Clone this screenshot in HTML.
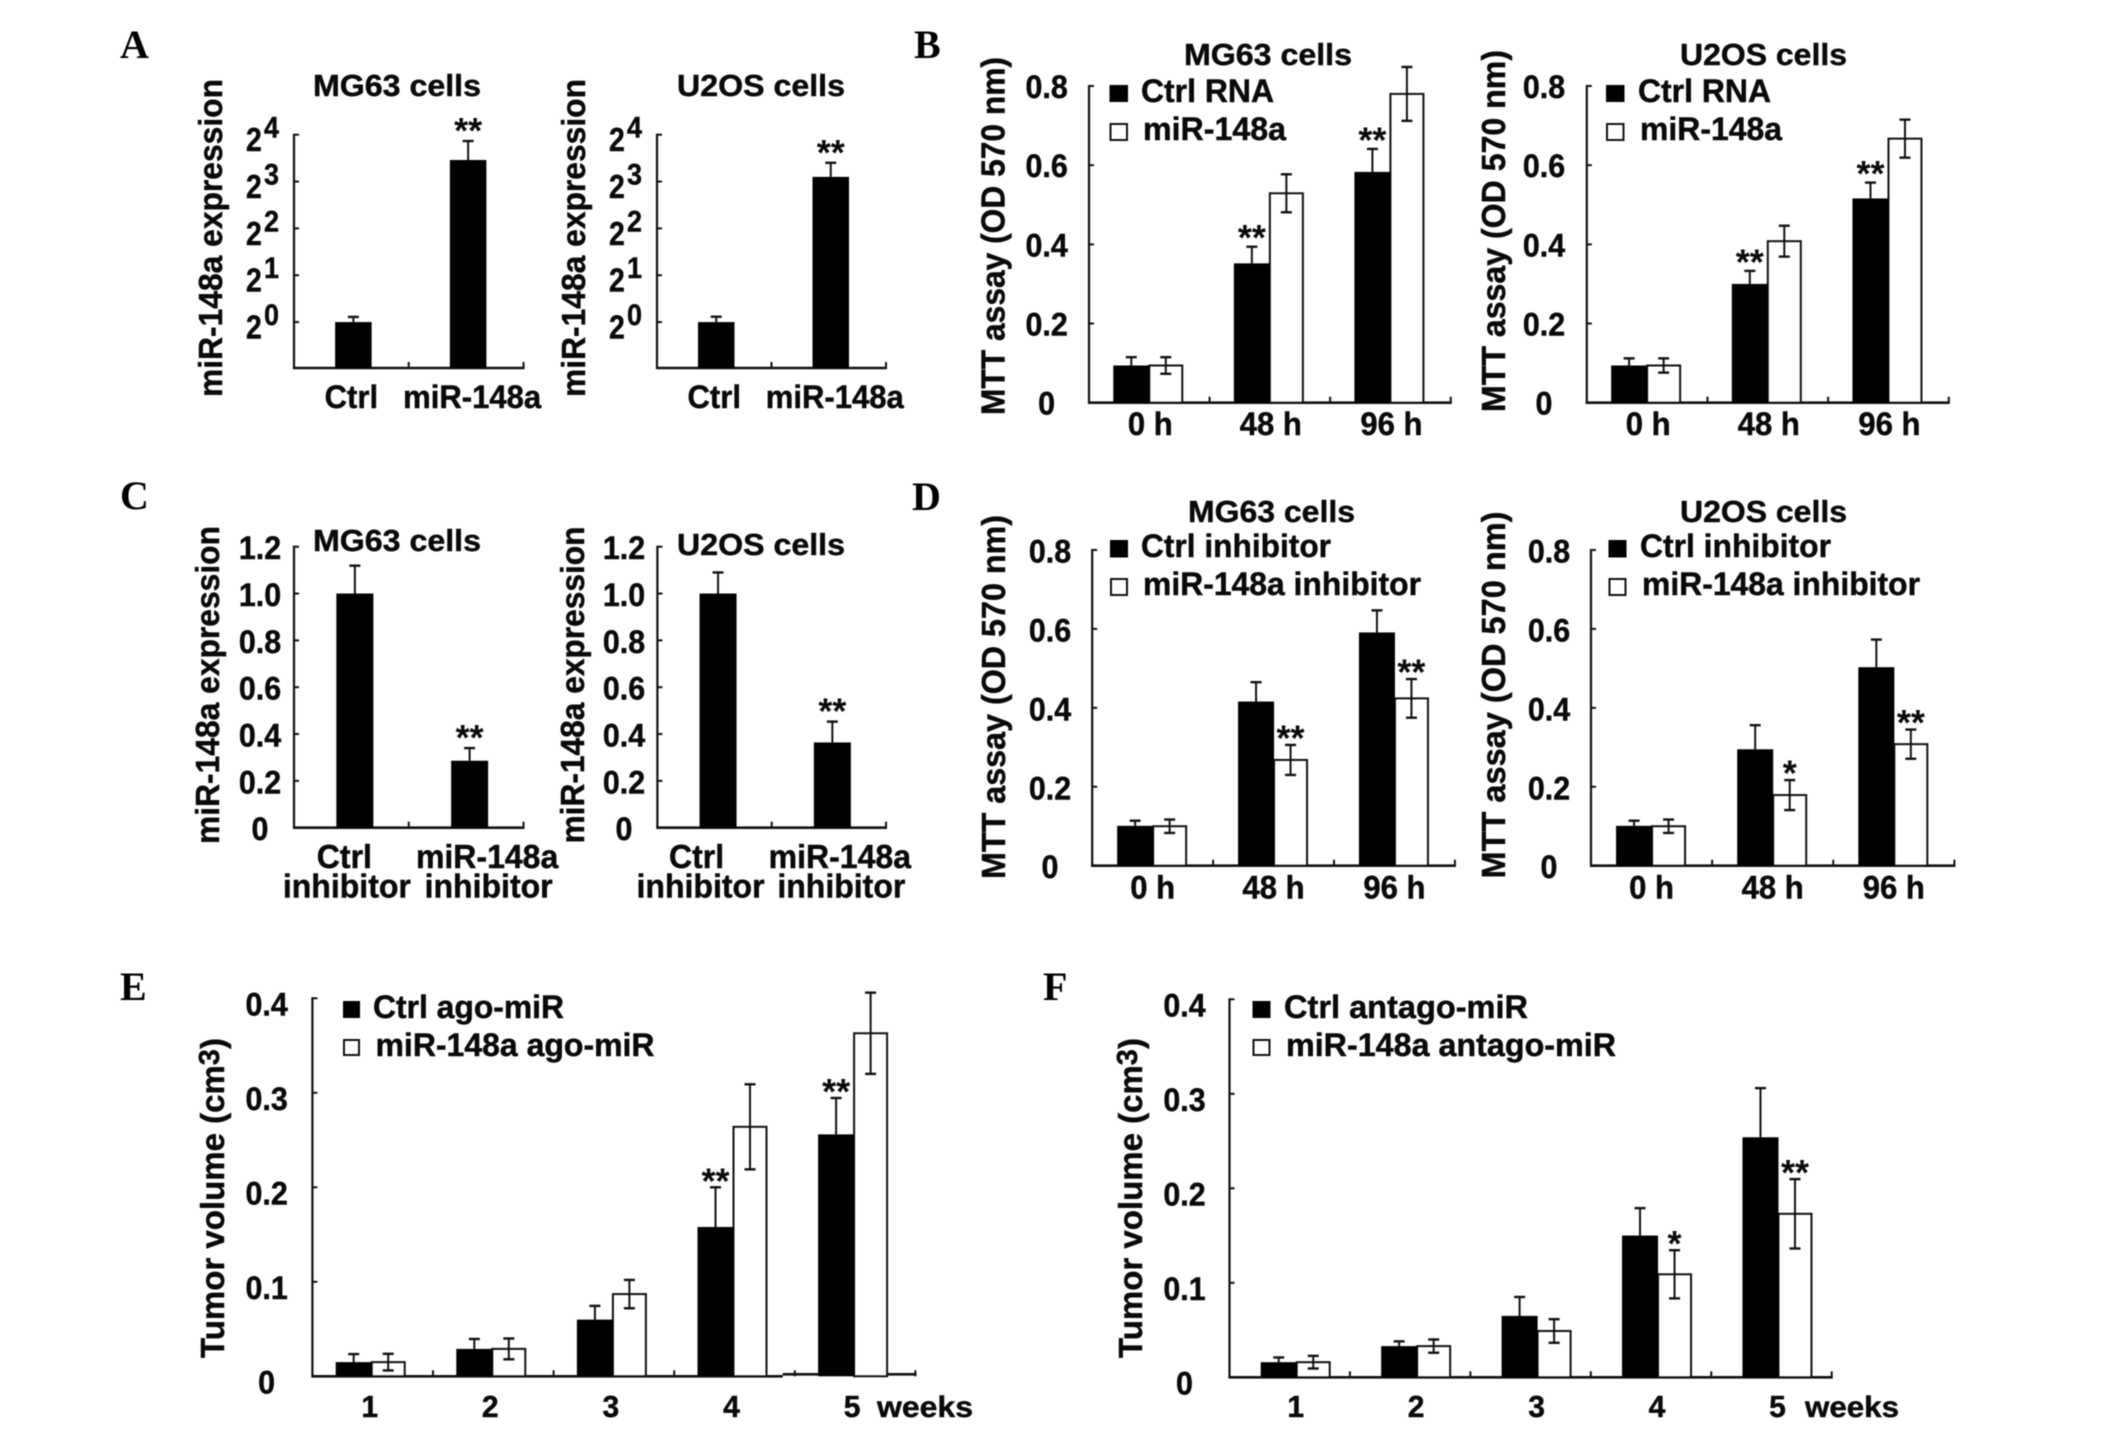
<!DOCTYPE html>
<html lang="en">
<head>
<meta charset="utf-8">
<title>miR-148a expression, MTT assay and tumor volume panels</title>
<style>
html,body{margin:0;padding:0;background:#fff;}
svg{display:block;filter:blur(0.45px);}
text{font-family:"Liberation Sans",Arial,sans-serif;font-weight:bold;fill:#0a0a0a;stroke:#0a0a0a;stroke-width:0.45px;}
.letter{font-family:"Liberation Serif","Times New Roman",serif;font-size:40px;fill:#000;stroke:none;}
.title{font-size:31px;}
.ylab{font-size:33px;font-weight:bold;}
.leg{font-size:32px;}
.star{stroke:none;}
</style>
</head>
<body>
<svg id="figure" xmlns="http://www.w3.org/2000/svg" width="2126" height="1430" viewBox="0 0 2126 1430">
<rect x="0" y="0" width="2126" height="1430" fill="#fff"/>

<text class="letter" x="120" y="58">A</text>
<text class="letter" x="914" y="58">B</text>
<text class="letter" x="120" y="509">C</text>
<text class="letter" x="912" y="510">D</text>
<text class="letter" x="120" y="1000">E</text>
<text class="letter" x="1043" y="1000">F</text>

<text class="title" x="313" y="96" textLength="168" lengthAdjust="spacingAndGlyphs">MG63 cells</text>
<text class="title" x="677" y="96" textLength="168" lengthAdjust="spacingAndGlyphs">U2OS cells</text>
<text class="title" x="1184" y="65" textLength="168" lengthAdjust="spacingAndGlyphs">MG63 cells</text>
<text class="title" x="1680" y="65" textLength="167" lengthAdjust="spacingAndGlyphs">U2OS cells</text>
<text class="title" x="313" y="551" textLength="168" lengthAdjust="spacingAndGlyphs">MG63 cells</text>
<text class="title" x="677" y="555" textLength="168" lengthAdjust="spacingAndGlyphs">U2OS cells</text>
<text class="title" x="1188" y="522" textLength="167" lengthAdjust="spacingAndGlyphs">MG63 cells</text>
<text class="title" x="1680" y="522" textLength="167" lengthAdjust="spacingAndGlyphs">U2OS cells</text>

<text class="ylab" transform="rotate(-90 222 238)" x="222" y="238" text-anchor="middle" textLength="318" lengthAdjust="spacingAndGlyphs">miR-148a expression</text>
<text class="ylab" transform="rotate(-90 585 238)" x="585" y="238" text-anchor="middle" textLength="318" lengthAdjust="spacingAndGlyphs">miR-148a expression</text>
<text class="ylab" transform="rotate(-90 219 685)" x="219" y="685" text-anchor="middle" textLength="318" lengthAdjust="spacingAndGlyphs">miR-148a expression</text>
<text class="ylab" transform="rotate(-90 584 685)" x="584" y="685" text-anchor="middle" textLength="317" lengthAdjust="spacingAndGlyphs">miR-148a expression</text>
<text class="ylab" transform="rotate(-90 1004.5 236)" x="1004.5" y="236" text-anchor="middle" textLength="358" lengthAdjust="spacingAndGlyphs">MTT assay (OD 570 nm)</text>
<text class="ylab" transform="rotate(-90 1505 231)" x="1505" y="231" text-anchor="middle" textLength="362" lengthAdjust="spacingAndGlyphs">MTT assay (OD 570 nm)</text>
<text class="ylab" transform="rotate(-90 1005 697)" x="1005" y="697" text-anchor="middle" textLength="364" lengthAdjust="spacingAndGlyphs">MTT assay (OD 570 nm)</text>
<text class="ylab" transform="rotate(-90 1505 695)" x="1505" y="695" text-anchor="middle" textLength="367" lengthAdjust="spacingAndGlyphs">MTT assay (OD 570 nm)</text>
<text class="ylab" transform="rotate(-90 224 1198)" x="224" y="1198" text-anchor="middle">Tumor volume (cm<tspan dy="-5" font-size="29">3</tspan><tspan dy="5">)</tspan></text>
<text class="ylab" transform="rotate(-90 1142 1198)" x="1142" y="1198" text-anchor="middle">Tumor volume (cm<tspan dy="-5" font-size="29">3</tspan><tspan dy="5">)</tspan></text>

<g>
<rect x="1109.5" y="85" width="18.5" height="17" fill="#000"/>
<rect x="1110.5" y="124" width="16.5" height="16" fill="#fff" stroke="#111" stroke-width="2"/>
<text class="leg" x="1141" y="102" textLength="133" lengthAdjust="spacingAndGlyphs">Ctrl RNA</text>
<text class="leg" x="1143" y="140" textLength="143" lengthAdjust="spacingAndGlyphs">miR-148a</text>
</g>
<g>
<rect x="1606" y="85" width="18.5" height="17" fill="#000"/>
<rect x="1607" y="124" width="16.5" height="16" fill="#fff" stroke="#111" stroke-width="2"/>
<text class="leg" x="1638" y="102" textLength="133" lengthAdjust="spacingAndGlyphs">Ctrl RNA</text>
<text class="leg" x="1640" y="140" textLength="142" lengthAdjust="spacingAndGlyphs">miR-148a</text>
</g>
<g>
<rect x="1110" y="540" width="18" height="17.5" fill="#000"/>
<rect x="1111" y="579" width="16" height="16" fill="#fff" stroke="#111" stroke-width="2"/>
<text class="leg" x="1141" y="557" textLength="190" lengthAdjust="spacingAndGlyphs">Ctrl inhibitor</text>
<text class="leg" x="1143" y="595" textLength="278" lengthAdjust="spacingAndGlyphs">miR-148a inhibitor</text>
</g>
<g>
<rect x="1608.5" y="540" width="18" height="17.5" fill="#000"/>
<rect x="1609.5" y="579" width="16" height="16" fill="#fff" stroke="#111" stroke-width="2"/>
<text class="leg" x="1640" y="557" textLength="191" lengthAdjust="spacingAndGlyphs">Ctrl inhibitor</text>
<text class="leg" x="1642" y="595" textLength="278" lengthAdjust="spacingAndGlyphs">miR-148a inhibitor</text>
</g>
<g>
<rect x="343" y="1001" width="17" height="17" fill="#000"/>
<rect x="344" y="1040" width="15" height="15" fill="#fff" stroke="#111" stroke-width="2"/>
<text class="leg" x="373" y="1018" textLength="191" lengthAdjust="spacingAndGlyphs">Ctrl ago-miR</text>
<text class="leg" x="375.5" y="1056" textLength="279" lengthAdjust="spacingAndGlyphs">miR-148a ago-miR</text>
</g>
<g>
<rect x="1252.5" y="1001" width="18" height="17" fill="#000"/>
<rect x="1253.5" y="1040" width="16" height="15" fill="#fff" stroke="#111" stroke-width="2"/>
<text class="leg" x="1284" y="1018" textLength="244" lengthAdjust="spacingAndGlyphs">Ctrl antago-miR</text>
<text class="leg" x="1286" y="1056" textLength="330" lengthAdjust="spacingAndGlyphs">miR-148a antago-miR</text>
</g>
<text x="877" y="1417" font-size="30" textLength="96" lengthAdjust="spacingAndGlyphs">weeks</text>
<text x="1805" y="1417" font-size="30" textLength="94" lengthAdjust="spacingAndGlyphs">weeks</text>
<g id="charts"></g>
</svg>

<script>
/* ---------- shared categories and tick labels ---------- */
const expressionCategories = [['Ctrl'], ['miR-148a']];
const inhibitorCategories = [['Ctrl', 'inhibitor'], ['miR-148a', 'inhibitor']];
const timeCategories = [['0 h'], ['48 h'], ['96 h']];
const weekCategories = [['1'], ['2'], ['3'], ['4'], ['5']];
const log2TickExponents = ['0', '1', '2', '3', '4'];
const inhibitorExpressionTicks = ['0', '0.2', '0.4', '0.6', '0.8', '1.0', '1.2'];
const mttTicks = ['0', '0.2', '0.4', '0.6', '0.8'];
const volumeTicks = ['0', '0.1', '0.2', '0.3', '0.4'];

/* ---------- panel A: log2 fold expression ---------- */
const aMg63Values = [0, 3.46];
const aMg63Errors = [0.11, 0.405];
const aMg63Stars = ['', '**'];
const aU2osValues = [0, 3.10];
const aU2osErrors = [0.115, 0.30];
const aU2osStars = ['', '**'];

/* ---------- panel C: relative expression ---------- */
const cMg63Values = [1.0, 0.286];
const cMg63Errors = [0.119, 0.054];
const cMg63Stars = ['', '**'];
const cU2osValues = [1.0, 0.364];
const cU2osErrors = [0.09, 0.089];
const cU2osStars = ['', '**'];

/* ---------- panel B: MTT ---------- */
const bMg63CtrlValues = [0.094, 0.352, 0.583];
const bMg63CtrlErrors = [0.021, 0.042, 0.058];
const bMg63CtrlStars = ['', '**', '**'];
const bMg63MirValues = [0.094, 0.529, 0.78];
const bMg63MirErrors = [0.021, 0.048, 0.068];
const bMg63MirStars = ['', '', ''];
const bU2osCtrlValues = [0.094, 0.30, 0.516];
const bU2osCtrlErrors = [0.018, 0.033, 0.04];
const bU2osCtrlStars = ['', '**', '**'];
const bU2osMirValues = [0.094, 0.408, 0.667];
const bU2osMirErrors = [0.018, 0.039, 0.048];
const bU2osMirStars = ['', '', ''];

/* ---------- panel D: MTT with inhibitor ---------- */
const dMg63CtrlValues = [0.101, 0.416, 0.591];
const dMg63CtrlErrors = [0.013, 0.049, 0.056];
const dMg63CtrlStars = ['', '', ''];
const dMg63MirValues = [0.10, 0.268, 0.424];
const dMg63MirErrors = [0.017, 0.038, 0.049];
const dMg63MirStars = ['', '**', '**'];
const dU2osCtrlValues = [0.101, 0.295, 0.503];
const dU2osCtrlErrors = [0.013, 0.061, 0.07];
const dU2osCtrlStars = ['', '', ''];
const dU2osMirValues = [0.10, 0.179, 0.308];
const dU2osMirErrors = [0.017, 0.038, 0.037];
const dU2osMirStars = ['', '*', '**'];

/* ---------- panel E: tumor volume, ago-miR ---------- */
const eCtrlValues = [0.015, 0.029, 0.06, 0.158, 0.256];
const eCtrlErrors = [0.0085, 0.0105, 0.0145, 0.042, 0.0385];
const eCtrlStars = ['', '', '', '**', '**'];
const eMirValues = [0.015, 0.029, 0.087, 0.264, 0.363];
const eMirErrors = [0.0088, 0.011, 0.015, 0.045, 0.043];
const eMirStars = ['', '', '', '', ''];

/* ---------- panel F: tumor volume, antago-miR ---------- */
const fCtrlValues = [0.016, 0.033, 0.065, 0.15, 0.254];
const fCtrlErrors = [0.005, 0.005, 0.02, 0.029, 0.052];
const fCtrlStars = ['', '', '', '', ''];
const fMirValues = [0.016, 0.033, 0.049, 0.109, 0.173];
const fMirErrors = [0.0067, 0.007, 0.0125, 0.0255, 0.0367];
const fMirStars = ['', '', '', '*', '**'];

const SVG_NS = 'http://www.w3.org/2000/svg';
const INK = '#111';
const chartsRoot = document.getElementById('charts');

function line(parent, name, x1, y1, x2, y2, width) {
  const el = document.createElementNS(SVG_NS, 'line');
  
  
  el.setAttribute('x1', x1);
  el.setAttribute('y1', y1);
  el.setAttribute('x2', x2);
  el.setAttribute('y2', y2);
  el.setAttribute('stroke', INK);
  el.setAttribute('stroke-width', width);
  parent.appendChild(el);
  return el;
}

function label(parent, name, str, x, y, size, anchor, squeeze) {
  const el = document.createElementNS(SVG_NS, 'text');
  
  
  el.setAttribute('x', x);
  el.setAttribute('y', y);
  el.setAttribute('font-size', size);
  el.setAttribute('text-anchor', anchor);
  el.textContent = str;
  parent.appendChild(el);
  if (squeeze) {
    const natural = el.getComputedTextLength();
    el.setAttribute('textLength', natural * squeeze);
    el.setAttribute('lengthAdjust', 'spacingAndGlyphs');
  }
  return el;
}

function barRect(parent, name, x, y, w, h, hollow) {
  const el = document.createElementNS(SVG_NS, 'rect');
  
  
  el.setAttribute('x', x);
  el.setAttribute('y', y);
  el.setAttribute('width', w);
  el.setAttribute('height', Math.max(0, h));
  el.setAttribute('fill', hollow ? '#fff' : '#000');
  if (hollow) {
    el.setAttribute('stroke', INK);
    el.setAttribute('stroke-width', 2);
  }
  parent.appendChild(el);
  return el;
}

function drawAxes(g, o, yScale, band) {
  line(g, 'y-axis-line', o.x0, o.yTop - 1, o.x0, o.yBottom + 1, 2.2);
  if (o.axisStepX) {
    line(g, 'x-axis-line-left', o.x0 - 1, o.yBottom, o.axisStepX, o.yBottom, 2.6);
    line(g, 'x-axis-line-right', o.axisStepX, o.yBottom - 2, o.x1 + 1, o.yBottom - 2, 2.6);
  } else {
    line(g, 'x-axis-line', o.x0 - 1, o.yBottom, o.x1 + 1, o.yBottom, 2.6);
  }
  for (let i = 1; i <= o.categories.length; i++) {
    const tx = o.x0 + band * i;
    line(g, 'x-axis-tick', tx, o.yBottom - 6, tx, o.yBottom, 2);
  }
  o.ticks.forEach(function (t) {
    const ty = yScale(parseFloat(t));
    line(g, 'y-axis-tick', o.x0, ty, o.x0 + 5, ty, 2);
    if (o.log2) {
      label(g, 'y-tick-label-base', '2', o.x0 - 48, ty + 16.5, 33, 'start', 0.86);
      label(g, 'y-tick-label-exponent', t, o.x0 - 30, ty + 3, 30, 'start', 0.9);
    } else {
      label(g, 'y-tick-label', t, o.tickLabelX, ty + o.tickDy, 32, 'middle', 0.95);
    }
  });
  o.categories.forEach(function (lines, i) {
    const c = o.x0 + band * (i + 0.5);
    lines.forEach(function (str, k) {
      const dx = o.labelDx ? o.labelDx[i][k] : o.labelShift;
      label(g, 'x-tick-label', str, c + dx, o.labelY + k * o.lineGap, o.labelSize, 'middle', 0.97);
    });
  });
}

function drawStar(g, str, x, errTopY, gap) {
  if (str) {
    const el = label(g, 'significance-marker', str, x, errTopY - gap + 17, 36, 'middle', 0);
    el.setAttribute('class', 'star');
  }
}

/* one filled bar per category, upward error bar only */
function drawSinglePanel(o) {
  const g = document.createElementNS(SVG_NS, 'g');
  
  
  chartsRoot.appendChild(g);
  const yScale = function (v) { return o.yBottom - (v - o.min) / (o.max - o.min) * (o.yBottom - o.yTop); };
  const band = (o.x1 - o.x0) / o.categories.length;
  drawAxes(g, o, yScale, band);
  o.values.forEach(function (v, i) {
    const c = o.x0 + band * (i + 0.5) + o.barDx;
    const top = yScale(v);
    const errY = yScale(v + o.errors[i]);
    barRect(g, 'bar', c - o.barWidth / 2, top, o.barWidth, o.yBottom - top, false);
    line(g, 'error-bar', c, top, c, errY, 2);
    line(g, 'error-bar-cap', c - 5.5, errY, c + 5.5, errY, 2.4);
    drawStar(g, o.stars[i], c, errY, o.starGap);
  });
}

/* filled + hollow bar per category */
function drawPairedPanel(o) {
  const g = document.createElementNS(SVG_NS, 'g');
  
  
  chartsRoot.appendChild(g);
  const yScale = function (v) { return o.yBottom - (v - o.min) / (o.max - o.min) * (o.yBottom - o.yTop); };
  const band = (o.x1 - o.x0) / o.categories.length;
  drawAxes(g, o, yScale, band);
  o.categories.forEach(function (_, i) {
    const c = o.x0 + band * (i + 0.5) + o.barDx;
    const blackW = 36;
    const whiteW = 33;
    const cTop = yScale(o.ctrlValues[i]);
    const mTop = yScale(o.mirValues[i]);
    const cx = c - blackW / 2;
    const mx = c + whiteW / 2;
    barRect(g, 'bar-hollow', c, mTop, whiteW, o.yBottom - mTop, true);
    barRect(g, 'bar-filled', c - blackW, cTop, blackW, o.yBottom - cTop, false);
    const cErr = yScale(o.ctrlValues[i] + o.ctrlErrors[i]);
    line(g, 'error-bar-filled', cx, cTop, cx, cErr, 2);
    line(g, 'error-bar-filled-cap', cx - 5.5, cErr, cx + 5.5, cErr, 2.4);
    const mHi = yScale(o.mirValues[i] + o.mirErrors[i]);
    const mLo = yScale(o.mirValues[i] - o.mirErrors[i]);
    line(g, 'error-bar-hollow', mx, mHi, mx, mLo, 2);
    line(g, 'error-bar-hollow-cap-high', mx - 5.5, mHi, mx + 5.5, mHi, 2.4);
    line(g, 'error-bar-hollow-cap-low', mx - 5.5, mLo, mx + 5.5, mLo, 2.4);
    drawStar(g, o.ctrlStars[i], cx, cErr, o.starGap);
    drawStar(g, o.mirStars[i], mx, mHi, o.starGap);
  });
}

const commonA = { categories: expressionCategories, ticks: log2TickExponents, log2: true, min: -0.98, max: 4, yTop: 134.7, yBottom: 368, barWidth: 36.5, barDx: 2, labelY: 408, labelSize: 32, lineGap: 0, starGap: 15 };
drawSinglePanel(Object.assign({}, commonA, { name: 'chart-a-mg63', x0: 294, x1: 523.5, values: aMg63Values, errors: aMg63Errors, stars: aMg63Stars, labelDx: [[0], [6]] }));
drawSinglePanel(Object.assign({}, commonA, { name: 'chart-a-u2os', x0: 657, x1: 886, values: aU2osValues, errors: aU2osErrors, stars: aU2osStars, labelDx: [[0], [6]] }));

const commonC = { categories: inhibitorCategories, ticks: inhibitorExpressionTicks, min: 0, max: 1.2, yTop: 546.7, yBottom: 827.7, barWidth: 37, barDx: 3.5, tickDy: 12.5, labelY: 868, labelSize: 33, lineGap: 29.5, starGap: 15 };
drawSinglePanel(Object.assign({}, commonC, { name: 'chart-c-mg63', x0: 294, x1: 523.5, tickLabelX: 260, values: cMg63Values, errors: cMg63Errors, stars: cMg63Stars, labelDx: [[-7, -4.5], [21, 22.5]] }));
drawSinglePanel(Object.assign({}, commonC, { name: 'chart-c-u2os', x0: 657.4, x1: 886, tickLabelX: 624, values: cU2osValues, errors: cU2osErrors, stars: cU2osStars, labelDx: [[-18, -14], [11, 12.5]] }));

const commonB = { categories: timeCategories, ticks: mttTicks, min: 0, max: 0.8, yTop: 86, yBottom: 402.7, barDx: 0, tickDy: 12, labelShift: 1, labelY: 435, labelSize: 32, lineGap: 0, starGap: 13.5 };
drawPairedPanel(Object.assign({}, commonB, { name: 'chart-b-mg63', x0: 1089, x1: 1450.7, tickLabelX: 1046.6, ctrlValues: bMg63CtrlValues, ctrlErrors: bMg63CtrlErrors, ctrlStars: bMg63CtrlStars, mirValues: bMg63MirValues, mirErrors: bMg63MirErrors, mirStars: bMg63MirStars }));
drawPairedPanel(Object.assign({}, commonB, { name: 'chart-b-u2os', x0: 1586.8, x1: 1948.8, tickLabelX: 1544, ctrlValues: bU2osCtrlValues, ctrlErrors: bU2osCtrlErrors, ctrlStars: bU2osCtrlStars, mirValues: bU2osMirValues, mirErrors: bU2osMirErrors, mirStars: bU2osMirStars }));

const commonD = { categories: timeCategories, ticks: mttTicks, min: 0, max: 0.8, yTop: 550, yBottom: 865.7, barDx: 0.5, tickDy: 12.5, labelShift: 0, labelY: 898.3, labelSize: 32, lineGap: 0, starGap: 11.5 };
drawPairedPanel(Object.assign({}, commonD, { name: 'chart-d-mg63', x0: 1092.2, x1: 1454.9, tickLabelX: 1050, ctrlValues: dMg63CtrlValues, ctrlErrors: dMg63CtrlErrors, ctrlStars: dMg63CtrlStars, mirValues: dMg63MirValues, mirErrors: dMg63MirErrors, mirStars: dMg63MirStars }));
drawPairedPanel(Object.assign({}, commonD, { name: 'chart-d-u2os', x0: 1591, x1: 1954.4, tickLabelX: 1549, ctrlValues: dU2osCtrlValues, ctrlErrors: dU2osCtrlErrors, ctrlStars: dU2osCtrlStars, mirValues: dU2osMirValues, mirErrors: dU2osMirErrors, mirStars: dU2osMirStars }));

const commonEF = { categories: weekCategories, ticks: volumeTicks, min: 0, max: 0.4, tickDy: 17, labelY: 1417, labelSize: 31, lineGap: 0, starGap: 11 };
drawPairedPanel(Object.assign({}, commonEF, { name: 'chart-e', x0: 312.4, x1: 915.4, yTop: 998.3, yBottom: 1376.3, axisStepX: 782.7, barDx: -1, labelShift: -3, tickLabelX: 266.6, ctrlValues: eCtrlValues, ctrlErrors: eCtrlErrors, ctrlStars: eCtrlStars, mirValues: eMirValues, mirErrors: eMirErrors, mirStars: eMirStars }));
drawPairedPanel(Object.assign({}, commonEF, { name: 'chart-f', x0: 1229.5, x1: 1831.7, yTop: 999.3, yBottom: 1377.3, barDx: 7, labelShift: 6, tickLabelX: 1184.5, ctrlValues: fCtrlValues, ctrlErrors: fCtrlErrors, ctrlStars: fCtrlStars, mirValues: fMirValues, mirErrors: fMirErrors, mirStars: fMirStars }));
</script>
</body>
</html>
